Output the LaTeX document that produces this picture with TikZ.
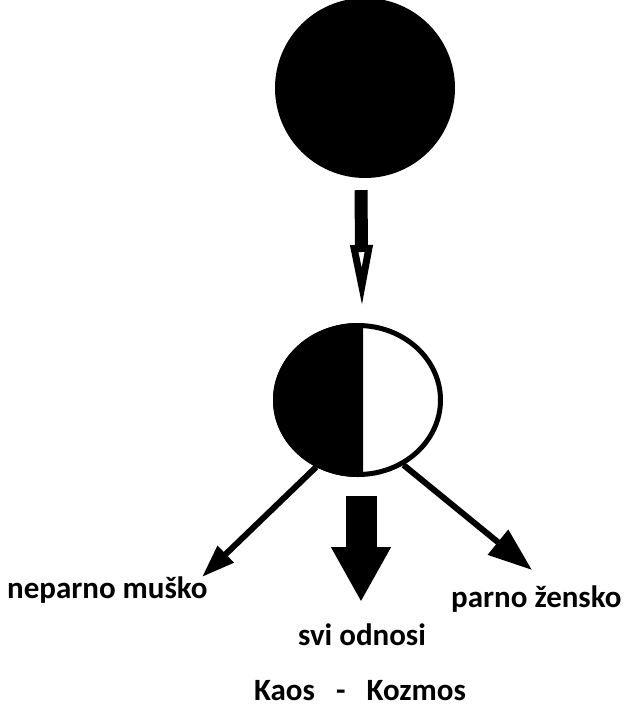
\documentclass[tikz,border=0pt]{standalone}
\usepackage{fontspec}
\setmainfont{Carlito}
\usetikzlibrary{arrows.meta,shapes.geometric}
\tikzset{
  lbl/.style={font=\fontsize{31}{37}\selectfont\bfseries, inner sep=0pt},
  sidearrow/.style={line width=6pt},
}
\begin{document}
\begin{tikzpicture}[x=1pt,y=-1pt]
        \useasboundingbox (0,0) rectangle (625,707);
        \node[circle,fill,minimum size=180pt,inner sep=0pt] (kaos) at (365,88) {};
        \begin{scope}
            \clip (0,0) rectangle (363,707);
            \fill (358,400) ellipse (85 and 77);
        \end{scope}
        \node[ellipse,draw,line width=5pt,minimum width=165pt,minimum height=149pt,inner sep=0pt] (par) at (358,400) {};
        \draw[line width=13pt,-{Triangle[open,length=62pt,width=21pt,line width=7pt]}] ([xshift=-4pt,yshift=-12pt]kaos.south) -- ([xshift=4pt,yshift=16pt]par.north);
        \coordinate (tipl) at (202,577);
        \coordinate (tipm) at (361,602);
        \coordinate (tipr) at (532,570);
        \draw[sidearrow,-{Triangle[length=33pt,width=22pt]}] (par.238) -- (tipl);
        \draw[line width=31pt,-{Triangle[length=55pt,width=56pt]}] ([xshift=3pt,yshift=-19pt]par.south) -- (tipm);
        \draw[sidearrow,-{Triangle[length=44pt,width=31pt]}] (par.305) -- (tipr);
        \node[lbl,anchor=base west] (musko) at (7,598) {neparno muško};
        \node[lbl,anchor=base west] (zensko) at (451,607) {parno žensko};
        \node[lbl,anchor=base] (svi) at (362,645) {svi odnosi};
        \node[lbl,anchor=base] (kk) at (360,700) {Kaos\ \ \ -\ \ \ Kozmos};
    \end{tikzpicture}
\end{document}
